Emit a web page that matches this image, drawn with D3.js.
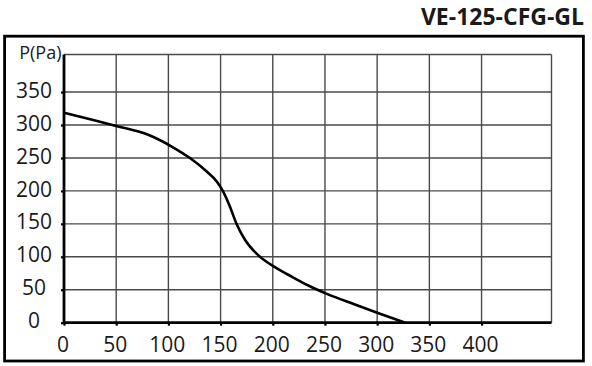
<!DOCTYPE html>
<html><head><meta charset="utf-8">
<script src="https://cdn.jsdelivr.net/npm/d3@7/dist/d3.min.js"></script>
<style>
html,body{margin:0;padding:0;background:#fff;}
svg{display:block;font-family:"Open Sans",sans-serif;}
</style></head>
<body><svg id="c" width="592" height="366"></svg>
<script>
const title = "VE-125-CFG-GL";
const yLabel = "P(Pa)";
const xTicks = [0, 50, 100, 150, 200, 250, 300, 350, 400];
const yTicks = [0, 50, 100, 150, 200, 250, 300, 350];
const flowQ = [0, 28, 50, 80, 103.5, 121, 137, 146.5, 152, 159, 165, 173.5, 186, 204, 218, 234, 253, 278, 302, 327];
const pressureP = [318.5, 307.5, 298.5, 285.5, 267, 249.5, 229, 214, 200.5, 176, 151, 125.5, 102.5, 82.5, 70, 56.5, 43, 28, 14, 0];
const xMax = 467, yMax = 407;

const svg = d3.select("#c");
const x = d3.scaleLinear().domain([0, xMax]).range([64, 551.5]);
const y = d3.scaleLinear().domain([0, yMax]).range([322.7, 54.5]);

// outer frame
svg.append("rect").attr("x", 4.6).attr("y", 36.2).attr("width", 578.8).attr("height", 324.8)
  .attr("fill", "none").attr("stroke", "#000").attr("stroke-width", 2.8);

// title
svg.append("text").attr("x", 584).attr("y", 25).attr("text-anchor", "end")
  .attr("font-size", 23).attr("font-weight", "bold").attr("fill", "#1a1a1a").text(title);

// grid
const g = svg.append("g").attr("stroke", "#4a4a4a").attr("stroke-width", 1.4).attr("fill", "none");
g.selectAll("line.v").data(xTicks.filter(d => d > 0).concat([xMax])).enter().append("line")
  .attr("x1", d => x(d)).attr("x2", d => x(d)).attr("y1", y(0)).attr("y2", y(yMax));
g.selectAll("line.h").data(yTicks.filter(d => d > 0).concat([yMax])).enter().append("line")
  .attr("y1", d => y(d)).attr("y2", d => y(d)).attr("x1", x(0)).attr("x2", x(xMax));

// axes
const xAxis = d3.axisBottom(x).tickValues(xTicks).tickSize(3).tickFormat("");
const yAxis = d3.axisLeft(y).tickValues(yTicks).tickSize(3).tickFormat("");
const gx = svg.append("g").attr("transform", `translate(0,${y(0)})`).call(xAxis);
const gy = svg.append("g").attr("transform", `translate(${x(0)},0)`).call(yAxis);
[gx, gy].forEach(a => {
  a.select(".domain").remove();
  a.selectAll(".tick line").attr("stroke", "#000").attr("stroke-width", 2.2);
});
svg.append("line").attr("x1", x(0)).attr("x2", x(xMax)).attr("y1", y(0)).attr("y2", y(0))
  .attr("stroke", "#000").attr("stroke-width", 2.8);
svg.append("line").attr("x1", x(0)).attr("x2", x(0)).attr("y1", y(0) + 1.4).attr("y2", y(yMax))
  .attr("stroke", "#000").attr("stroke-width", 2.8);

// tick labels
svg.append("g").selectAll("text").data(xTicks).enter().append("text")
  .attr("x", d => x(d) - 1).attr("y", 351.5).attr("text-anchor", "middle")
  .attr("font-size", 21).attr("fill", "#1a1a1a").text(d => d);
svg.append("g").selectAll("text").data(yTicks).enter().append("text")
  .attr("x", 34).attr("y", d => y(d) + 5.6).attr("text-anchor", "middle")
  .attr("font-size", 21).attr("fill", "#1a1a1a").text(d => d);

svg.append("text").attr("x", 61.5).attr("y", 59.3).attr("text-anchor", "end")
  .attr("font-size", 18).attr("fill", "#1a1a1a").text(yLabel);

// curve
const pts = flowQ.map((q, i) => [q, pressureP[i]]);
svg.append("path").datum(pts)
  .attr("d", d3.line().x(d => x(d[0])).y(d => y(d[1])).curve(d3.curveMonotoneX))
  .attr("fill", "none").attr("stroke", "#000").attr("stroke-width", 2.6);
</script></body></html>
